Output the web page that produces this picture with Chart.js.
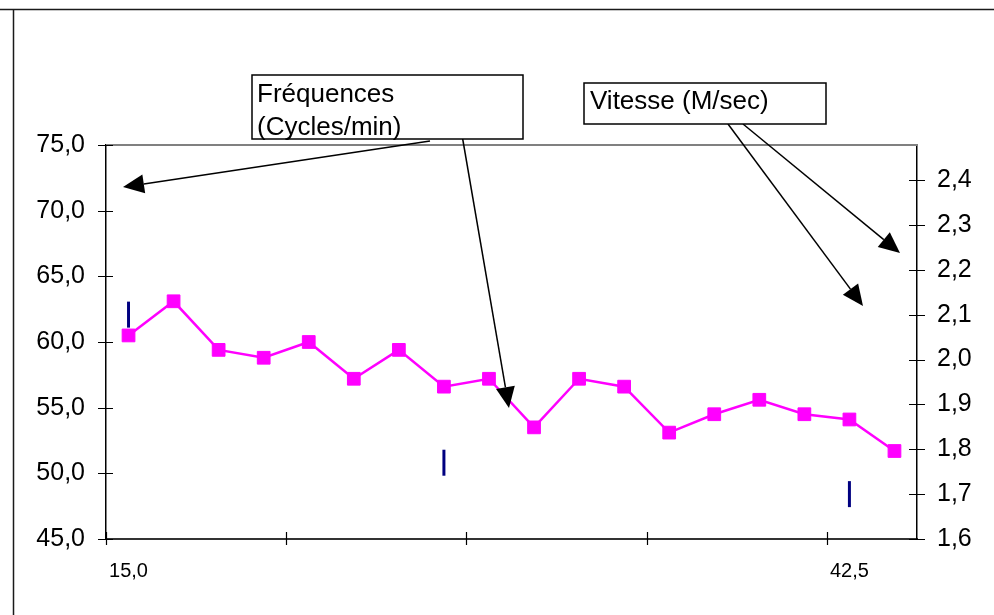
<!DOCTYPE html>
<html lang="fr">
<head>
    <meta charset="UTF-8">
    <title>Fréquences et vitesse</title>
    <script src="https://cdn.jsdelivr.net/npm/chart.js"></script>
    <style>
        body {
            margin: 0;
            background: #ffffff;
        }
        #chartBox {
            width: 994px;
            height: 615px;
        }
    </style>
</head>
<body>
    <div id="chartBox">
        <canvas id="freqChart" width="994" height="615"></canvas>
    </div>

    <script>
        // categories (only two are labelled in the original)
        const categories = ['15,0', '', '', '', '', '', '', '', '', '', '', '', '', '', '', '', '42,5', ''];

        // Fréquences (Cycles/min) - left axis
        const frequences = [60.5, 63.1, 59.4, 58.8, 60.0, 57.2, 59.4, 56.6, 57.2, 53.5, 57.2, 56.6, 53.1, 54.5, 55.6, 54.5, 54.1, 51.7];

        // Vitesse (M/sec) - right axis, only three readings
        const vitesse = [2.10, null, null, null, null, null, null, 1.77, null, null, null, null, null, null, null, null, 1.70, null];

        const freqTicks = [45, 50, 55, 60, 65, 70, 75];
        const vitTicks = [1.6, 1.7, 1.8, 1.9, 2.0, 2.1, 2.2, 2.3, 2.4];
        const xTickEvery = 4;

        const police = "'Liberation Sans', Arial, sans-serif";

        function virgule(v) {
            return v.toFixed(1).replace('.', ',');
        }

        function fleche(ctx, x1, y1, x2, y2) {
            const ang = Math.atan2(y2 - y1, x2 - x1);
            const len = 21, half = 9.5;
            const bx = x2 - Math.cos(ang) * len;
            const by = y2 - Math.sin(ang) * len;
            ctx.beginPath();
            ctx.moveTo(x1, y1);
            ctx.lineTo(bx, by);
            ctx.stroke();
            ctx.beginPath();
            ctx.moveTo(x2, y2);
            ctx.lineTo(bx + Math.sin(ang) * half, by - Math.cos(ang) * half);
            ctx.lineTo(bx - Math.sin(ang) * half, by + Math.cos(ang) * half);
            ctx.closePath();
            ctx.fill();
        }

        // cadre, graduations croisées et étiquettes avec flèches
        const decor = {
            id: 'decor',
            afterDraw(chart) {
                const ctx = chart.ctx;
                const a = chart.chartArea;
                const x = chart.scales.x;
                const yL = chart.scales.y;
                const yR = chart.scales.y2;
                ctx.save();

                // top border of plot area
                ctx.strokeStyle = '#808080';
                ctx.lineWidth = 2;
                ctx.beginPath();
                ctx.moveTo(a.left, a.top);
                ctx.lineTo(a.right, a.top);
                ctx.stroke();

                // tick marks crossing the axes
                ctx.strokeStyle = '#000000';
                ctx.lineWidth = 1.2;
                ctx.beginPath();
                freqTicks.forEach(v => {
                    const py = Math.round(yL.getPixelForValue(v)) + 0.5;
                    ctx.moveTo(a.left - 8, py);
                    ctx.lineTo(a.left + 7, py);
                });
                vitTicks.forEach(v => {
                    const py = Math.round(yR.getPixelForValue(v)) + 0.5;
                    ctx.moveTo(a.right - 8, py);
                    ctx.lineTo(a.right + 8, py);
                });
                const demi = (x.getPixelForValue(1) - x.getPixelForValue(0)) / 2;
                for (let i = 0; i < categories.length; i += xTickEvery) {
                    const px = Math.round(x.getPixelForValue(i) - demi) + 0.5;
                    ctx.moveTo(px, a.bottom - 7);
                    ctx.lineTo(px, a.bottom + 6);
                }
                ctx.stroke();

                // outer frame (partial)
                ctx.strokeStyle = '#1a1a1a';
                ctx.lineWidth = 1.5;
                ctx.beginPath();
                ctx.moveTo(0, 9.5);
                ctx.lineTo(chart.width, 9.5);
                ctx.moveTo(13.5, 9);
                ctx.lineTo(13.5, chart.height);
                ctx.stroke();

                // arrows
                ctx.strokeStyle = '#000000';
                ctx.fillStyle = '#000000';
                ctx.lineWidth = 1.5;
                fleche(ctx, 430, 141, 123, 187);
                fleche(ctx, 462, 135, 509, 408);
                fleche(ctx, 728, 124, 863, 306);
                fleche(ctx, 743, 124, 900, 253);

                // text boxes
                ctx.lineWidth = 1.5;
                ctx.fillStyle = '#ffffff';
                ctx.fillRect(252, 75, 271, 64);
                ctx.strokeRect(252, 75, 271, 64);
                ctx.fillRect(584, 83, 242, 41);
                ctx.strokeRect(584, 83, 242, 41);

                ctx.fillStyle = '#000000';
                ctx.font = '26px ' + police;
                ctx.textAlign = 'left';
                ctx.textBaseline = 'alphabetic';
                ctx.fillText('Fréquences', 257, 102);
                ctx.fillText('(Cycles/min)', 257, 135);
                ctx.fillText('Vitesse (M/sec)', 590, 109);

                ctx.restore();
            }
        };

        const ctx = document.getElementById('freqChart').getContext('2d');
        const chart = new Chart(ctx, {
            type: 'line',
            data: {
                labels: categories,
                datasets: [{
                    label: 'Fréquences (Cycles/min)',
                    data: frequences,
                    yAxisID: 'y',
                    borderColor: '#ff00ff',
                    backgroundColor: '#ff00ff',
                    borderWidth: 2.5,
                    pointStyle: 'rect',
                    pointRadius: 9,
                    pointBorderWidth: 1,
                    tension: 0,
                    order: 1
                }, {
                    label: 'Vitesse (M/sec)',
                    data: vitesse,
                    yAxisID: 'y2',
                    showLine: false,
                    borderColor: '#000080',
                    backgroundColor: '#000080',
                    pointStyle: 'line',
                    pointRotation: 90,
                    pointRadius: 13,
                    pointBorderWidth: 3,
                    order: 2
                }]
            },
            options: {
                responsive: false,
                animation: false,
                layout: {
                    padding: { top: 145, left: 0, right: 0, bottom: 0 }
                },
                plugins: {
                    legend: { display: false },
                    tooltip: { enabled: false }
                },
                scales: {
                    x: {
                        offset: true,
                        grid: { display: false, drawTicks: false },
                        border: { color: '#333333', width: 2 },
                        ticks: {
                            autoSkip: false,
                            maxRotation: 0,
                            padding: 20,
                            color: '#000000',
                            font: { family: police, size: 20 }
                        },
                        afterFit(scale) { scale.height = 76; }
                    },
                    y: {
                        position: 'left',
                        min: 45,
                        max: 75,
                        grid: { display: false, drawTicks: false },
                        border: { color: '#000000', width: 1.5 },
                        ticks: {
                            stepSize: 5,
                            padding: 21,
                            color: '#000000',
                            font: { family: police, size: 25 },
                            callback: v => virgule(v)
                        },
                        afterFit(scale) { scale.width = 106; }
                    },
                    y2: {
                        position: 'right',
                        min: 1.6,
                        max: 2.478,
                        grid: { display: false, drawTicks: false },
                        border: { color: '#000000', width: 1.5 },
                        ticks: {
                            stepSize: 0.1,
                            padding: 20,
                            color: '#000000',
                            font: { family: police, size: 25 },
                            callback: v => virgule(v)
                        },
                        afterBuildTicks(scale) {
                            scale.ticks = vitTicks.map(v => ({ value: v }));
                        },
                        afterFit(scale) { scale.width = 77; }
                    }
                }
            },
            plugins: [decor]
        });
    </script>
</body>
</html>
